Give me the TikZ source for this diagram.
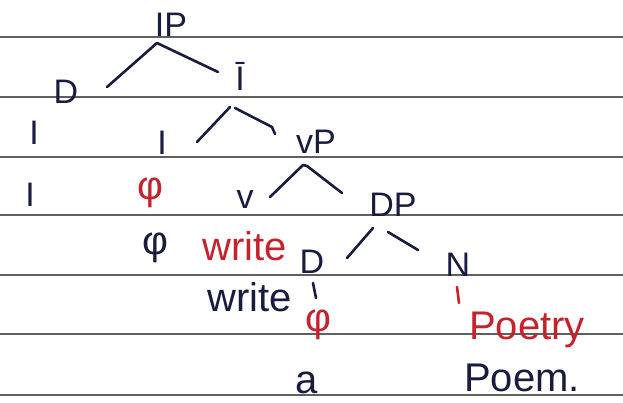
\documentclass[tikz,border=0pt]{standalone}
\usepackage{fontspec}
\setmainfont{Liberation Sans}
\usetikzlibrary{calc}
\definecolor{inkblue}{RGB}{24,28,62}
\definecolor{inkred}{RGB}{196,34,44}
\definecolor{ruleline}{RGB}{95,95,95}

\begin{document}
\begin{tikzpicture}[x=1pt, y=-1pt,
      lbl/.style={inner sep=0pt, text=inkblue, font=\fontsize{34}{36}\selectfont},
      word/.style={lbl, font=\fontsize{40}{42}\selectfont},
      nullsym/.style={lbl, font=\fontsize{40}{42}\selectfont},
      redink/.style={text=inkred},
      branch/.style={draw=inkblue, line width=2.6pt, line cap=round, line join=round}
    ]
      \useasboundingbox (0,0) rectangle (623,403);
      \fill[white] (0,0) rectangle (623,403);

      % ruled paper
      \foreach \ry in {37,97,157,215,275,334,395}
        \draw[ruleline, line width=1.1pt] (0,\ry) -- (623,\ry);

      % labels
      \node[lbl] (ip) at (171,25) {IP};
      \node[lbl] (d) at (66,92) {D};
      \node[lbl] (ibar) at (240,76) {Ī};
      \node[lbl] (ileft) at (34,133) {I};
      \node[lbl] (i) at (162,143) {I};
      \node[lbl] (vp) at (316,142) {vP};
      \node[lbl] (ileftb) at (30,195) {I};
      \node[nullsym, redink] (nullred) at (150,193) {φ};
      \node[lbl] (v) at (245,200) {v};
      \node[lbl] (dp) at (393,205) {DP};
      \node[nullsym] (null) at (155,248) {φ};
      \node[word, redink] (writered) at (245,246) {write};
      \node[lbl] (dd) at (312,262) {D};
      \node[lbl] (n) at (458,265) {N};
      \node[word] (write) at (250,297) {write};
      \node[nullsym, redink] (nulldet) at (318,325) {φ};
      \node[word] (a) at (307,383) {a};
      \node[word, redink] (poetry) at (527,330) {Poetry};
      \node[word] (poem) at (522,378) {Poem.};

      % branches
      \draw[branch] ($(d)+(41,-5)$) -- ($(ip)+(-14,18)$) -- ($(ibar)+(-22,-4)$);
      \draw[branch] ($(i)+(35,-1)$) -- ($(ibar)+(-10,31)$);
      \draw[branch] ($(ibar)+(-5,32)$) -- ($(vp)+(-44,-15)$) -- ($(vp)+(-41,-8)$);
      \draw[branch] ($(v)+(25,-3)$) -- ($(vp)+(-13,23)$) -- ($(vp)+(-9,24)$) -- ($(dp)+(-51,-12)$);
      \draw[branch] ($(dp)+(-20,23)$) -- ($(dd)+(35,-4)$);
      \draw[branch] ($(dp)+(-5,27)$) -- ($(n)+(-40,-15)$);
      \draw[branch] ($(dd)+(1,21)$) -- ($(dd)+(4,36)$);
      \draw[branch, draw=inkred] ($(n)+(-1,22)$) -- ($(n)+(1,38)$);
    \end{tikzpicture}
\end{document}
